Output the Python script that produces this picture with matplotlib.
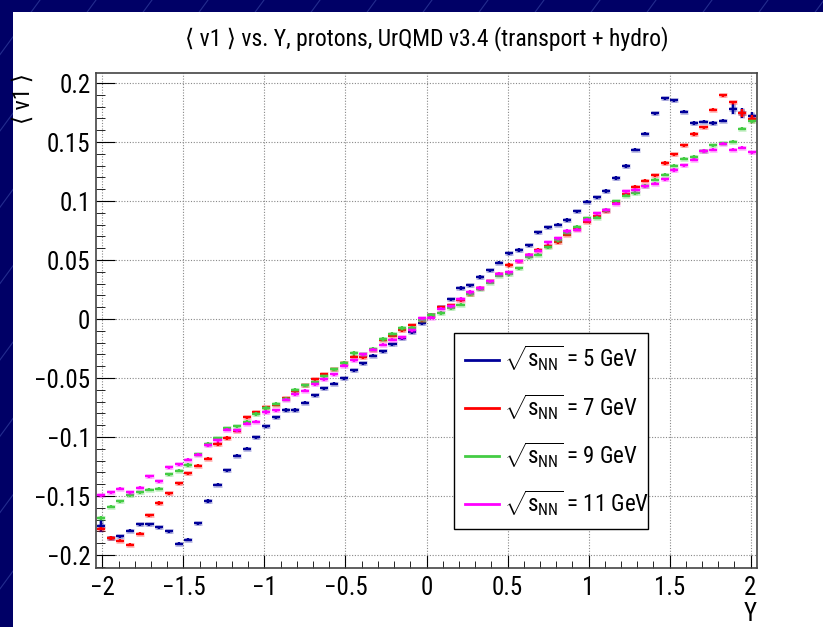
import numpy as np
import matplotlib.pyplot as plt
import matplotlib.font_manager as fm
from matplotlib.patches import Rectangle
from matplotlib.lines import Line2D
from matplotlib.ticker import MultipleLocator

# pick a narrow sans face if one is installed (ROOT plots use narrow Helvetica)
narrow_name, narrow_stretch = None, 'normal'
ttf = fm.fontManager.ttflist
for pref in ['Liberation Sans Narrow', 'Arial Narrow', 'Roboto Condensed',
             'Noto Sans Condensed', 'Open Sans Condensed', 'DejaVu Sans Condensed']:
    if any(f.name == pref for f in ttf):
        narrow_name = pref
        break
if narrow_name is None:
    for pref in ['Roboto', 'Noto Sans', 'Liberation Sans', 'Open Sans', 'DejaVu Sans']:
        hits = [f for f in ttf if f.name == pref and f.style == 'normal'
                and str(f.stretch) in ('condensed', 'semi-condensed')]
        if hits:
            narrow_name, narrow_stretch = pref, str(hits[0].stretch)
            break

if narrow_name is not None:
    FS = 18
    plt.rcParams['font.family'] = [narrow_name, 'DejaVu Sans']
    plt.rcParams['font.stretch'] = narrow_stretch
    plt.rcParams['mathtext.fontset'] = 'custom'
    plt.rcParams['mathtext.rm'] = '%s:stretch=%s' % (narrow_name, narrow_stretch)
    plt.rcParams['mathtext.it'] = '%s:stretch=%s' % (narrow_name, narrow_stretch)
else:
    FS = 15
    plt.rcParams['font.family'] = ['Liberation Sans', 'DejaVu Sans']
    plt.rcParams['mathtext.fontset'] = 'custom'
    plt.rcParams['mathtext.rm'] = 'Liberation Sans'
    plt.rcParams['mathtext.it'] = 'Liberation Sans'

# histogram binning: 68 bins in rapidity Y
bin_edges = np.linspace(-2.04, 2.04, 69)

# <v1> per bin
v1_5gev = [-0.1752, -0.1856, -0.1842, -0.1794, -0.1741, -0.1741, -0.1766, -0.1800,
           -0.1904, -0.1870, -0.1729, -0.1542, -0.1404, -0.1283, -0.1160, -0.1099,
           -0.1003, -0.0910, -0.0834, -0.0771, -0.0771, -0.0710, -0.0648, -0.0588,
           -0.0548, -0.0503, -0.0435, -0.0373, -0.0311, -0.0274, -0.0212, -0.0164,
           -0.0110, -0.0034, 0.0030, 0.0100, 0.0169, 0.0263, 0.0285, 0.0356,
           0.0415, 0.0477, 0.0559, 0.0585, 0.0624, 0.0737, 0.0776, 0.0799,
           0.0839, 0.0915, 0.0994, 0.1031, 0.1085, 0.1195, 0.1297, 0.1435,
           0.1570, 0.1742, 0.1869, 0.1853, 0.1757, 0.1661, 0.1672, 0.1661,
           0.1681, 0.1780, 0.1746, 0.1717]
v1_7gev = [-0.1777, -0.1856, -0.1879, -0.1913, -0.1820, -0.1664, -0.1559, -0.1475,
           -0.1390, -0.1308, -0.1243, -0.1184, -0.1059, -0.1008, -0.0945, -0.0831,
           -0.0790, -0.0746, -0.0726, -0.0670, -0.0613, -0.0562, -0.0510, -0.0470,
           -0.0424, -0.0373, -0.0320, -0.0325, -0.0260, -0.0175, -0.0140, -0.0097,
           -0.0054, -0.0010, 0.0030, 0.0099, 0.0115, 0.0160, 0.0212, 0.0260,
           0.0319, 0.0380, 0.0458, 0.0488, 0.0540, 0.0587, 0.0620, 0.0649,
           0.0714, 0.0760, 0.0825, 0.0870, 0.0912, 0.0990, 0.1059, 0.1120,
           0.1172, 0.1217, 0.1322, 0.1395, 0.1471, 0.1568, 0.1627, 0.1774,
           0.1895, 0.1836, 0.1746, 0.1695]
v1_9gev = [-0.1686, -0.1591, -0.1546, -0.1495, -0.1469, -0.1447, -0.1438, -0.1314,
           -0.1286, -0.1237, -0.1145, -0.1055, -0.1010, -0.0924, -0.0910, -0.0870,
           -0.0805, -0.0754, -0.0718, -0.0675, -0.0599, -0.0562, -0.0534, -0.0486,
           -0.0424, -0.0370, -0.0288, -0.0300, -0.0250, -0.0169, -0.0125, -0.0076,
           -0.0076, -0.0006, 0.0036, 0.0051, 0.0090, 0.0121, 0.0212, 0.0254,
           0.0308, 0.0367, 0.0380, 0.0432, 0.0525, 0.0545, 0.0610, 0.0666,
           0.0730, 0.0780, 0.0853, 0.0860, 0.0920, 0.0997, 0.1045, 0.1068,
           0.1130, 0.1180, 0.1223, 0.1299, 0.1358, 0.1373, 0.1424, 0.1471,
           0.1490, 0.1503, 0.1613, 0.1675]
v1_11gev = [-0.1495, -0.1469, -0.1438, -0.1469, -0.1430, -0.1334, -0.1373, -0.1258,
            -0.1229, -0.1193, -0.1150, -0.1071, -0.1029, -0.0938, -0.0944, -0.0887,
            -0.0870, -0.0788, -0.0774, -0.0684, -0.0639, -0.0608, -0.0554, -0.0509,
            -0.0470, -0.0396, -0.0351, -0.0297, -0.0260, -0.0218, -0.0175, -0.0153,
            -0.0097, 0.0008, 0.0010, 0.0087, 0.0107, 0.0172, 0.0229, 0.0263,
            0.0319, 0.0384, 0.0398, 0.0488, 0.0545, 0.0579, 0.0649, 0.0683,
            0.0746, 0.0757, 0.0840, 0.0898, 0.0926, 0.0977, 0.1081, 0.1096,
            0.1124, 0.1147, 0.1186, 0.1263, 0.1305, 0.1350, 0.1424, 0.1435,
            0.1486, 0.1435, 0.1452, 0.1415]

# typical statistical error, larger ones at the edges (bin index: error)
base_err = 0.0013
big_err = {
    '5': {0: 0.005, 65: 0.004, 66: 0.004, 67: 0.004},
    '7': {66: 0.003, 67: 0.003},
    '9': {},
    '11': {},
}

energies = ['5', '7', '9', '11']
colors = ['#000099', '#ff0000', '#44cc44', '#ff00ff']
series = [v1_5gev, v1_7gev, v1_9gev, v1_11gev]

centers = 0.5 * (bin_edges[:-1] + bin_edges[1:])

fig = plt.figure(figsize=(8.23, 6.27), dpi=100, facecolor='#000066')

# slide background: faint diagonal lines and white canvas
for x0 in range(-700, 823, 56):
    fig.add_artist(Line2D([x0 / 823, (x0 + 460) / 823], [0, 1], color='#3b4aa8',
                          lw=0.8, alpha=0.6, zorder=-3))
fig.add_artist(Rectangle((13 / 823, 0), 1, (627 - 12) / 627, transform=fig.transFigure,
                         facecolor='white', edgecolor='none', zorder=-2))

ax = fig.add_axes([96 / 823, 59 / 627, 661 / 823, 495 / 627])
ax.set_facecolor('white')

for e, col, vals in zip(energies, colors, series):
    err = [big_err[e].get(i, base_err) for i in range(len(vals))]
    # soft halo like the anti-aliased ROOT markers
    ax.errorbar(centers, vals, xerr=0.025, yerr=err, fmt='none', ecolor=col,
                elinewidth=3.6, alpha=0.25, capsize=0)
    ax.errorbar(centers, vals, xerr=0.025, yerr=err, fmt='none', ecolor=col,
                elinewidth=1.6, capsize=0)
    ax.plot([], [], color=col, lw=2, label=r'$\sqrt{\mathrm{s}_{\mathrm{NN}}}$ = %s GeV' % e)

ax.set_xlim(-2.04, 2.04)
ax.set_ylim(-0.211, 0.2085)

ax.xaxis.set_major_locator(MultipleLocator(0.5))
ax.xaxis.set_minor_locator(MultipleLocator(0.1))
ax.yaxis.set_major_locator(MultipleLocator(0.05))
ax.yaxis.set_minor_locator(MultipleLocator(0.01))
ax.xaxis.set_major_formatter(plt.FuncFormatter(lambda v, p: ('%g' % v).replace('-', '\u2212')))
ax.yaxis.set_major_formatter(plt.FuncFormatter(lambda v, p: ('%g' % round(v, 3)).replace('-', '\u2212')))

ax.tick_params(axis='both', which='both', direction='in', top=False, right=False,
               labelsize=FS, color='black')
ax.tick_params(axis='y', which='major', length=14, pad=4)
ax.tick_params(axis='y', which='minor', length=6.5)
ax.tick_params(axis='x', which='major', length=9.5, pad=6)
ax.tick_params(axis='x', which='minor', length=5)

ax.grid(True, which='major', color='#888888', linestyle=(0, (1, 1.5)), lw=0.8)
ax.set_axisbelow(True)
for s in ax.spines.values():
    s.set_color('#444444')
    s.set_linewidth(1.2)

ax.set_title('\u27e8 v1 \u27e9 vs. Y, protons, UrQMD v3.4 (transport + hydro)',
             fontsize=FS - 1, pad=20)
ax.set_xlabel('Y', fontsize=FS, loc='right')
ax.xaxis.set_label_coords(1.0, -0.068)
ax.set_ylabel('\u27e8 v1 \u27e9', fontsize=FS - 1, loc='top')
ax.yaxis.set_label_coords(-0.092, 1.0)

leg = ax.legend(loc='lower left', bbox_to_anchor=(0.5416, 0.078, 0.294, 0.398),
                mode='expand', borderaxespad=0, fontsize=FS - 1.5, fancybox=False,
                edgecolor='black', framealpha=1, handlelength=1.45,
                handletextpad=0.25, borderpad=0.5, labelspacing=0.82)
leg.get_frame().set_linewidth(1.0)

fig.savefig('out.png', dpi=100, facecolor=fig.get_facecolor())
